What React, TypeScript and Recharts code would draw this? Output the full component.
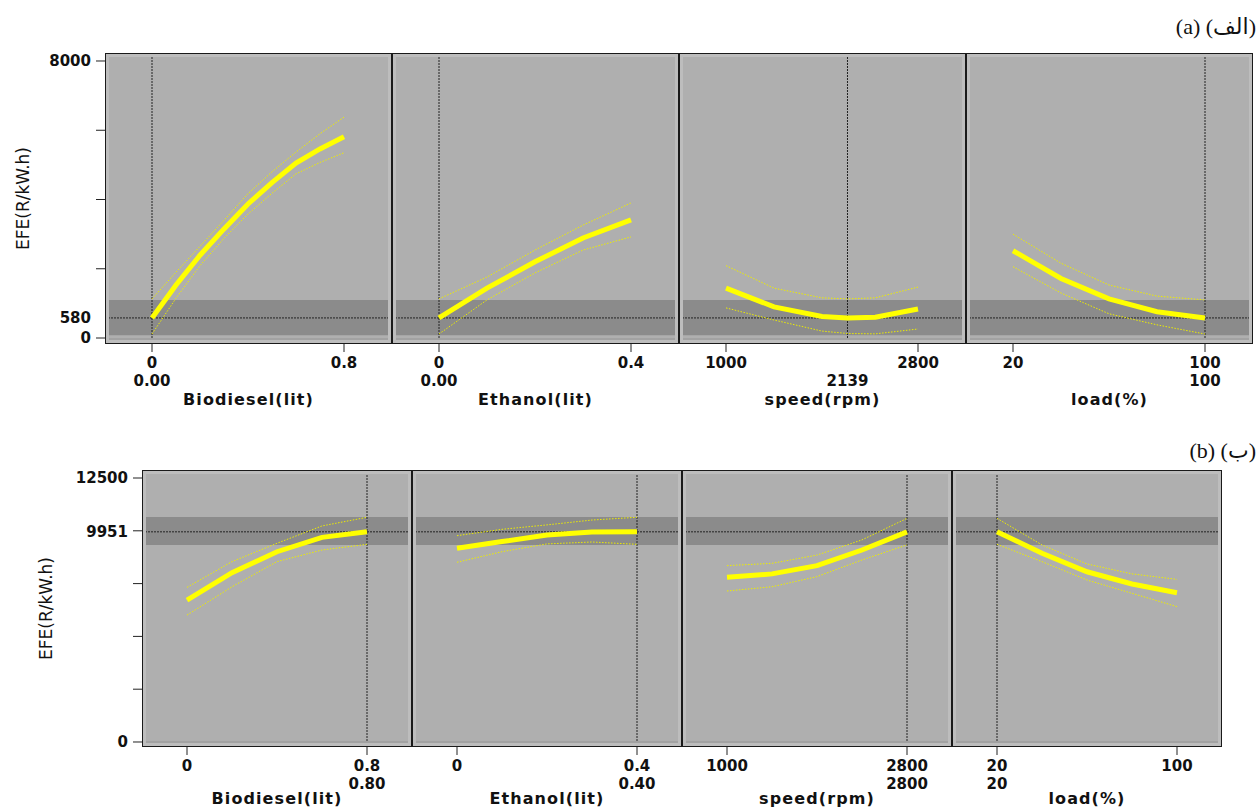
import React from "react";
import { LineChart, Line, XAxis, YAxis, ReferenceArea, ReferenceLine } from "recharts";

// ---- profiler (a) ----
const bioX_a = [0, 0.1, 0.2, 0.3, 0.4, 0.5, 0.6, 0.7, 0.8];
const bioMean_a = [580, 1530, 2390, 3150, 3870, 4490, 5050, 5460, 5810];
const bioUpper_a = [1130, 1900, 2650, 3400, 4170, 4800, 5370, 5900, 6380];
const bioLower_a = [115, 1150, 2090, 2880, 3580, 4180, 4740, 5070, 5350];

const ethX_a = [0, 0.1, 0.2, 0.3, 0.4];
const ethMean_a = [580, 1440, 2200, 2890, 3410];
const ethUpper_a = [1130, 1760, 2540, 3260, 3900];
const ethLower_a = [115, 1100, 1880, 2540, 2920];

const spdX_a = [1000, 1450, 1900, 2139, 2400, 2800];
const spdMean_a = [1440, 900, 620, 580, 600, 840];
const spdUpper_a = [2090, 1440, 1160, 1130, 1160, 1470];
const spdLower_a = [870, 520, 200, 130, 120, 260];

const loadX_a = [20, 40, 60, 80, 100];
const loadMean_a = [2520, 1720, 1130, 760, 580];
const loadUpper_a = [3000, 2160, 1530, 1210, 1100];
const loadLower_a = [2060, 1300, 700, 380, 115];

const current_a = [0, 0, 2139, 100];
const currentLabels_a = ["0.00", "0.00", "2139", "100"];
const pred_a = 580;
const band_a = [80, 1100];
const yMarks_a = [0, 2000, 4000, 6000, 8000];
const yLabels_a = [0, 580, 8000];

// ---- profiler (b) ----
const bioX_b = [0, 0.2, 0.4, 0.6, 0.8];
const bioMean_b = [6720, 8020, 9010, 9690, 9951];
const bioUpper_b = [7320, 8540, 9410, 10230, 10640];
const bioLower_b = [6010, 7350, 8540, 9090, 9360];

const ethX_b = [0, 0.1, 0.2, 0.3, 0.4];
const ethMean_b = [9170, 9490, 9800, 9940, 9951];
const ethUpper_b = [9770, 10070, 10280, 10510, 10640];
const ethLower_b = [8510, 9010, 9380, 9470, 9360];

const spdX_b = [1000, 1450, 1900, 2350, 2800];
const spdMean_b = [7800, 7960, 8350, 9090, 9951];
const spdUpper_b = [8350, 8460, 8850, 9570, 10590];
const spdLower_b = [7150, 7350, 7830, 8620, 9330];

const loadX_b = [20, 40, 60, 80, 100];
const loadMean_b = [9951, 8940, 8060, 7480, 7070];
const loadUpper_b = [10590, 9330, 8430, 7960, 7700];
const loadLower_b = [9360, 8540, 7670, 7040, 6410];

const current_b = [0.8, 0.4, 2800, 20];
const currentLabels_b = ["0.80", "0.40", "2800", "20"];
const pred_b = 9951;
const band_b = [9330, 10650];
const yMarks_b = [0, 2500, 5000, 7500, 10000, 12500];
const yLabels_b = [0, 9951, 12500];

// shared
const factorEnds = [[0, 0.8], [0, 0.4], [1000, 2800], [20, 100]];
const factorEndLabels = [["0", "0.8"], ["0", "0.4"], ["1000", "2800"], ["20", "100"]];
const factorTitles = ["Biodiesel(lit)", "Ethanol(lit)", "speed(rpm)", "load(%)"];
const yTitle = "EFE(R/kW.h)";

const FONT = "'DejaVu Sans', 'Liberation Sans', sans-serif";
const PANEL_BG = "#afafaf";
const BAND = "#8b8b8b";
const YELLOW = "#ffff00";
const AXIS_H = 66;

const makePanels = (xs, means, uppers, lowers, current, curLabels) =>
  xs.map((x, i) => ({
    title: factorTitles[i],
    ends: factorEnds[i],
    endLabels: factorEndLabels[i],
    current: current[i],
    currentLabel: curLabels[i],
    data: x.map((v, k) => ({ x: v, mean: means[i][k], upper: uppers[i][k], lower: lowers[i][k] })),
  }));

const rowA = {
  left: 105, top: 53, pw: 287, h: 291, padL: 47 / 192, padR: 48 / 192,
  yDomain: [-173, 8231], yMarks: yMarks_a, yLabels: yLabels_a,
  pred: pred_a, band: band_a, labelX: 23, titleOffset: 5,
  panels: makePanels(
    [bioX_a, ethX_a, spdX_a, loadX_a],
    [bioMean_a, ethMean_a, spdMean_a, loadMean_a],
    [bioUpper_a, ethUpper_a, spdUpper_a, loadUpper_a],
    [bioLower_a, ethLower_a, spdLower_a, loadLower_a],
    current_a, currentLabels_a
  ),
};

const rowB = {
  left: 142, top: 470, pw: 270, h: 277, padL: 45 / 180, padR: 45 / 180,
  yDomain: [-237, 12879], yMarks: yMarks_b, yLabels: yLabels_b,
  pred: pred_b, band: band_b, labelX: 46, titleOffset: 9,
  panels: makePanels(
    [bioX_b, ethX_b, spdX_b, loadX_b],
    [bioMean_b, ethMean_b, spdMean_b, loadMean_b],
    [bioUpper_b, ethUpper_b, spdUpper_b, loadUpper_b],
    [bioLower_b, ethLower_b, spdLower_b, loadLower_b],
    current_b, currentLabels_b
  ),
};

const tickText = { fontFamily: FONT, fontWeight: 700, fontSize: 15, fill: "#111" };

const XTick = ({ x, y, payload, p }: any) => {
  const v = payload.value;
  const i = p.ends.indexOf(v);
  return (
    <g>
      {i >= 0 && <line x1={x} x2={x} y1={y} y2={y + 8} stroke="#222" strokeWidth={1} />}
      {i >= 0 && (
        <text x={x} y={y + 23.5} textAnchor="middle" {...tickText}>
          {p.endLabels[i]}
        </text>
      )}
      {v === p.current && (
        <text x={x} y={y + 41.5} textAnchor="middle" {...tickText}>
          {p.currentLabel}
        </text>
      )}
    </g>
  );
};

const YTick = ({ x, y, payload, row }: any) => {
  const v = payload.value;
  return (
    <g>
      {row.yMarks.includes(v) && <line x1={x - 9} x2={x} y1={y} y2={y} stroke="#222" strokeWidth={1} />}
      {row.yLabels.includes(v) && (
        <text x={x - 14} y={y} dy="0.36em" textAnchor="end" {...tickText}>
          {v}
        </text>
      )}
    </g>
  );
};

const ProfilerRow = ({ row }: any) => {
  const yTicks = Array.from(new Set([...row.yMarks, ...row.yLabels])).sort((a: number, b: number) => a - b);
  return (
    <>
      {row.panels.map((p, i) => {
        const px = row.left + i * row.pw;
        const first = i === 0;
        const span = p.ends[1] - p.ends[0];
        const dom = [p.ends[0] - span * row.padL, p.ends[1] + span * row.padR];
        const xTicks = Array.from(new Set([...p.ends, p.current])).sort((a: number, b: number) => a - b);
        return (
          <React.Fragment key={i}>
            <div style={{ position: "absolute", left: px, top: row.top, width: row.pw, height: row.h, background: PANEL_BG }} />
            <div style={{ position: "absolute", left: first ? 0 : px, top: row.top }}>
              <LineChart
                width={first ? px + row.pw : row.pw}
                height={row.h + AXIS_H}
                data={p.data}
                margin={{ top: 0, right: 0, bottom: 0, left: 0 }}
              >
                <XAxis
                  dataKey="x"
                  type="number"
                  domain={dom}
                  allowDataOverflow
                  ticks={xTicks}
                  interval={0}
                  tickLine={false}
                  axisLine={false}
                  tickSize={0}
                  tickMargin={0}
                  height={AXIS_H}
                  tick={(t) => <XTick {...t} p={p} />}
                  label={{
                    value: p.title,
                    position: "insideBottom",
                    offset: row.titleOffset,
                    fill: "#111",
                    fontSize: 16,
                    fontWeight: 700,
                    fontFamily: FONT,
                    letterSpacing: 1.1,
                  }}
                />
                <YAxis
                  type="number"
                  domain={row.yDomain}
                  allowDataOverflow
                  hide={!first}
                  width={first ? px : 0}
                  ticks={yTicks}
                  interval={0}
                  tickLine={false}
                  axisLine={false}
                  tickSize={0}
                  tickMargin={0}
                  tick={(t) => <YTick {...t} row={row} />}
                  label={
                    first
                      ? {
                          value: yTitle,
                          angle: -90,
                          position: "insideLeft",
                          offset: row.labelX,
                          style: { textAnchor: "middle" },
                          fill: "#111",
                          fontSize: 17,
                          fontFamily: FONT,
                        }
                      : undefined
                  }
                />
                <ReferenceArea y1={row.band[0]} y2={row.band[1]} fill={BAND} fillOpacity={1} stroke="none" />
                <ReferenceLine y={row.pred} stroke="#222" strokeDasharray="2 1" strokeWidth={1} />
                <ReferenceLine x={p.current} stroke="#222" strokeDasharray="2 1" strokeWidth={1} />
                <Line dataKey="upper" stroke="#eeee00" strokeWidth={1} strokeDasharray="1.5 1.5" dot={false} isAnimationActive={false} />
                <Line dataKey="lower" stroke="#eeee00" strokeWidth={1} strokeDasharray="1.5 1.5" dot={false} isAnimationActive={false} />
                <Line dataKey="mean" stroke={YELLOW} strokeWidth={5} dot={false} isAnimationActive={false} />
              </LineChart>
            </div>
            <div
              style={{
                position: "absolute",
                left: px,
                top: row.top,
                width: row.pw,
                height: row.h,
                boxSizing: "border-box",
                border: "1px solid #1a1a1a",
                boxShadow: "inset 0 0 0 3px #bdbdbd, inset 0 -5px 0 #a2a2a2",
                pointerEvents: "none",
              }}
            />
          </React.Fragment>
        );
      })}
    </>
  );
};

const tagStyle: React.CSSProperties = {
  position: "absolute",
  right: 1,
  fontFamily: "'Liberation Serif', 'DejaVu Sans', serif",
  fontSize: 22,
  direction: "rtl",
  color: "#111",
  whiteSpace: "nowrap",
};

export default function App() {
  return (
    <div style={{ position: "absolute", left: 0, top: 0, width: 1257, height: 810, overflow: "hidden", background: "#fff" }}>
      <div style={{ ...tagStyle, top: 14 }}>(الف) (a)</div>
      <ProfilerRow row={rowA} />
      <div style={{ ...tagStyle, top: 438 }}>(ب) (b)</div>
      <ProfilerRow row={rowB} />
    </div>
  );
}
